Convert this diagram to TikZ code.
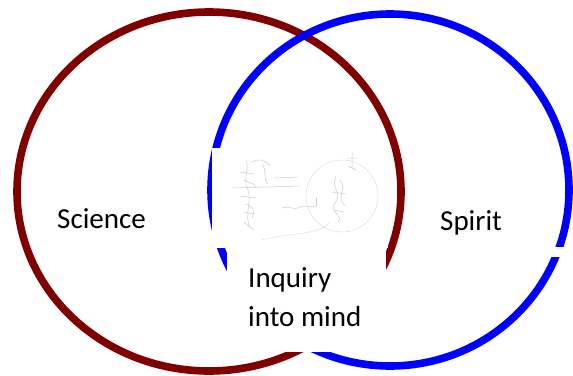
\documentclass[tikz,border=0pt]{standalone}
\usepackage{fontspec}
\setmainfont{Carlito}
\definecolor{sciencered}{HTML}{800000}
\definecolor{spiritblue}{HTML}{0000FF}
\definecolor{pencil}{gray}{0.8}
\begin{document}
\begin{tikzpicture}[x=1pt,y=-1pt,
  ring/.style={line width=7.6pt},
  label/.style={font=\fontsize{29}{35}\selectfont, inner sep=0pt, anchor=base west, text=black},
  cover/.style={fill=white, draw=none, inner sep=0pt, anchor=north west},
  sketch/.style={draw=pencil, line width=0.5pt, line cap=round, line join=round}]
\useasboundingbox (0,0) rectangle (573,375);

% the two overlapping fields
\draw[ring, sciencered] (209,191.5) ellipse [x radius=192, y radius=179.5];
\draw[ring, spiritblue] (390,190) ellipse [x radius=179, y radius=176];

% panel holding the pencil sketch
\node[cover, minimum width=176pt, minimum height=100pt] (panel) at (212,148) {};
\begin{scope}[sketch]
  % left figure
  \draw (246,160) .. controls (250,170) and (242,178) .. (248,190) .. controls (252,202) and (244,214) .. (250,228);
  \draw (252,162) .. controls (258,158) and (266,160) .. (270,166);
  \draw (262,164) .. controls (268,172) and (262,178) .. (268,184);
  \draw (240,172) -- (254,174) (240,196) -- (256,198) (244,212) -- (254,214);
  \draw (244,180) .. controls (250,184) and (254,182) .. (256,188);
  \draw (246,204) .. controls (252,206) and (256,210) .. (252,218);
  \draw (244,222) -- (254,230);
  % horizontal link and inscription
  \draw (232,188) -- (300,186);
  \draw (274,178) -- (298,177);
  \draw (282,208) .. controls (288,205) and (294,211) .. (300,207) .. controls (306,204) and (310,209) .. (316,206);
  \draw (316,206) -- (316,198);
  % right figure inside a faint circle
  \draw[draw=pencil!60] (342,196) circle [radius=36];
  \draw (336,176) .. controls (330,188) and (344,194) .. (334,204) .. controls (330,212) and (344,216) .. (338,222);
  \draw (340,180) .. controls (348,190) and (334,198) .. (346,206);
  \draw (332,192) -- (346,194) (334,210) -- (344,212);
  % small figure at top right
  \draw (352,152) -- (352,168) (347,158) -- (357,158) (348,166) -- (356,170);
  % broad faint sweep below
  \draw[draw=pencil!60] (262,240) .. controls (290,232) and (318,236) .. (330,222);
\end{scope}

% white field behind the middle label
\node[cover, minimum width=159pt, minimum height=104pt] (midbox) at (227,248) {};
% break in the right-hand ring
\node[cover, minimum width=40pt, minimum height=10pt] (gap) at (533,247) {};

% labels
\node[label] (science) at (57,228) {Science};
\node[label] (spirit) at (440,230) {Spirit};
\node[label] (inq1) at (248,287) {Inquiry};
\node[label] (inq2) at (248,326) {into mind};
\end{tikzpicture}
\end{document}
